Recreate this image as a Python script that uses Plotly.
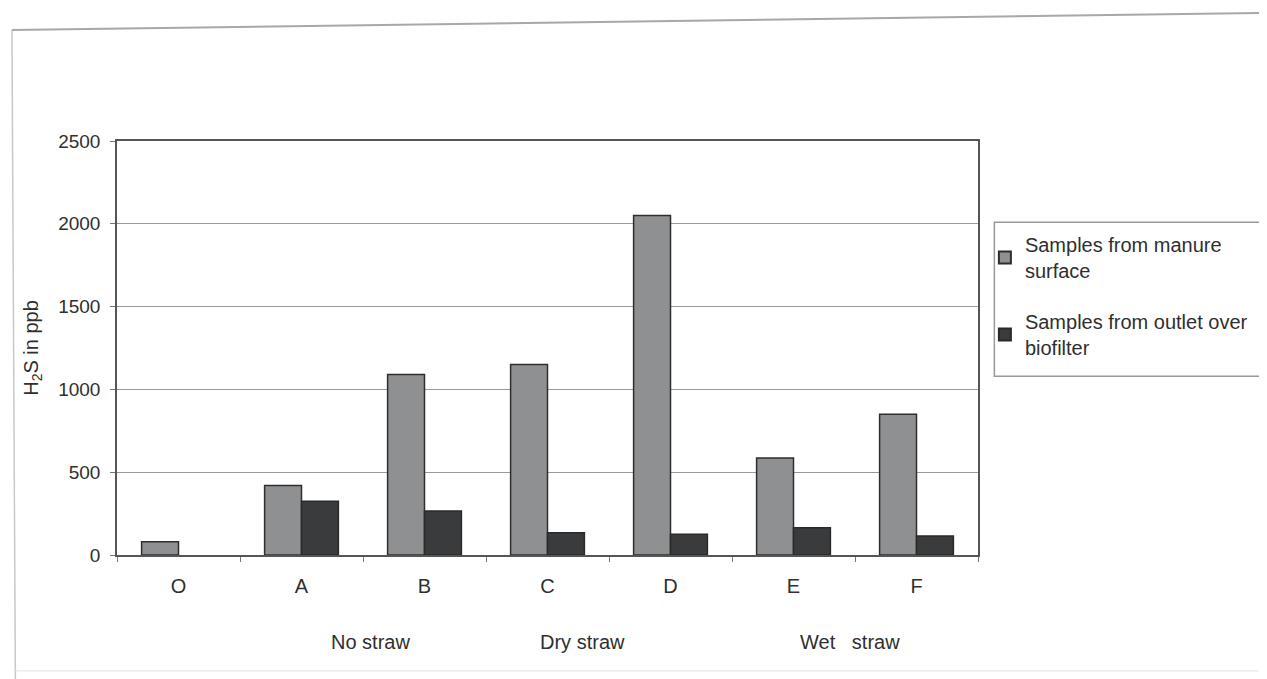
import plotly.graph_objects as go

categories = ["O", "A", "B", "C", "D", "E", "F"]
manure_surface = [80, 420, 1090, 1150, 2050, 585, 850]
outlet_biofilter = [0, 325, 265, 135, 125, 165, 115]
series_names = ["Samples from manure<br>surface", "Samples from outlet over<br>biofilter"]
group_labels = ["No straw", "Dry straw", "Wet   straw"]
group_positions = [0.294, 0.541, 0.851]
y_ticks = [0, 500, 1000, 1500, 2000, 2500]

FONT = "Arial, Liberation Sans, sans-serif"
TXT = "#2f2f2f"

fig = go.Figure()
fig.add_trace(go.Bar(
    x=categories, y=manure_surface, name=series_names[0], legendgroup="manure",
    marker=dict(color="#8e9092", line=dict(color="#2e2e2e", width=1.5)),
))
fig.add_trace(go.Bar(
    x=categories, y=outlet_biofilter, name=series_names[1], legendgroup="outlet",
    marker=dict(color="#3a3b3d",
                line=dict(color="#2a2a2a", width=[0 if v == 0 else 1.5 for v in outlet_biofilter])),
))

shapes = [
    # outer chart frame (scan)
    dict(type="line", xref="paper", yref="paper", x0=-0.122, y0=1.268, x1=1.36, y1=1.31,
         line=dict(color="#a8a8a8", width=2)),
    dict(type="line", xref="paper", yref="paper", x0=-0.122, y0=1.268, x1=-0.118, y1=-0.32,
         line=dict(color="#c8c8c8", width=1.5)),
    dict(type="line", xref="paper", yref="paper", x0=-0.12, y0=-0.28, x1=1.36, y1=-0.28,
         line=dict(color="#e2e2e2", width=1)),
    # legend frame
    dict(type="rect", xref="paper", yref="paper", x0=1.019, y0=0.432, x1=1.36, y1=0.804,
         line=dict(color="#9a9a9a", width=1.5), fillcolor="rgba(0,0,0,0)"),
]

annotations = [
    dict(text=t, x=xp, y=-0.21, xref="paper", yref="paper", showarrow=False,
         font=dict(family=FONT, size=20, color=TXT), xanchor="center", yanchor="middle")
    for t, xp in zip(group_labels, group_positions)
]

fig.update_layout(
    width=1267, height=679,
    margin=dict(l=109, r=297, t=133, b=132),
    paper_bgcolor="white", plot_bgcolor="white",
    barmode="group", bargap=0.4, bargroupgap=0.0,
    font=dict(family=FONT, size=19, color=TXT),
    showlegend=True,
    legend=dict(
        x=1.008, y=0.797, xanchor="left", yanchor="top",
        borderwidth=0, bgcolor="rgba(0,0,0,0)",
        font=dict(family=FONT, size=20, color=TXT),
        tracegroupgap=22, itemsizing="constant", itemwidth=30,
    ),
    xaxis=dict(
        showgrid=False, showline=True, linecolor="#555555", linewidth=1.5,
        mirror=True, ticks="outside", tickson="boundaries", ticklen=5,
        tickcolor="#777777", tickfont=dict(family=FONT, size=20, color=TXT),
        ticklabelstandoff=12,
    ),
    yaxis=dict(
        range=[0, 2500], tickvals=y_ticks, showgrid=True, gridcolor="#9a9a9a",
        gridwidth=1.2, showline=True, linecolor="#555555", linewidth=1.5,
        mirror=True, ticks="outside", ticklen=5, tickcolor="#777777",
        tickfont=dict(family=FONT, size=19, color=TXT), ticklabelstandoff=6,
        title=dict(text="H<sub>2</sub>S in ppb", font=dict(family=FONT, size=20, color=TXT),
                   standoff=14),
        zeroline=False,
    ),
    shapes=shapes,
    annotations=annotations,
)

fig.write_html("out.html")
